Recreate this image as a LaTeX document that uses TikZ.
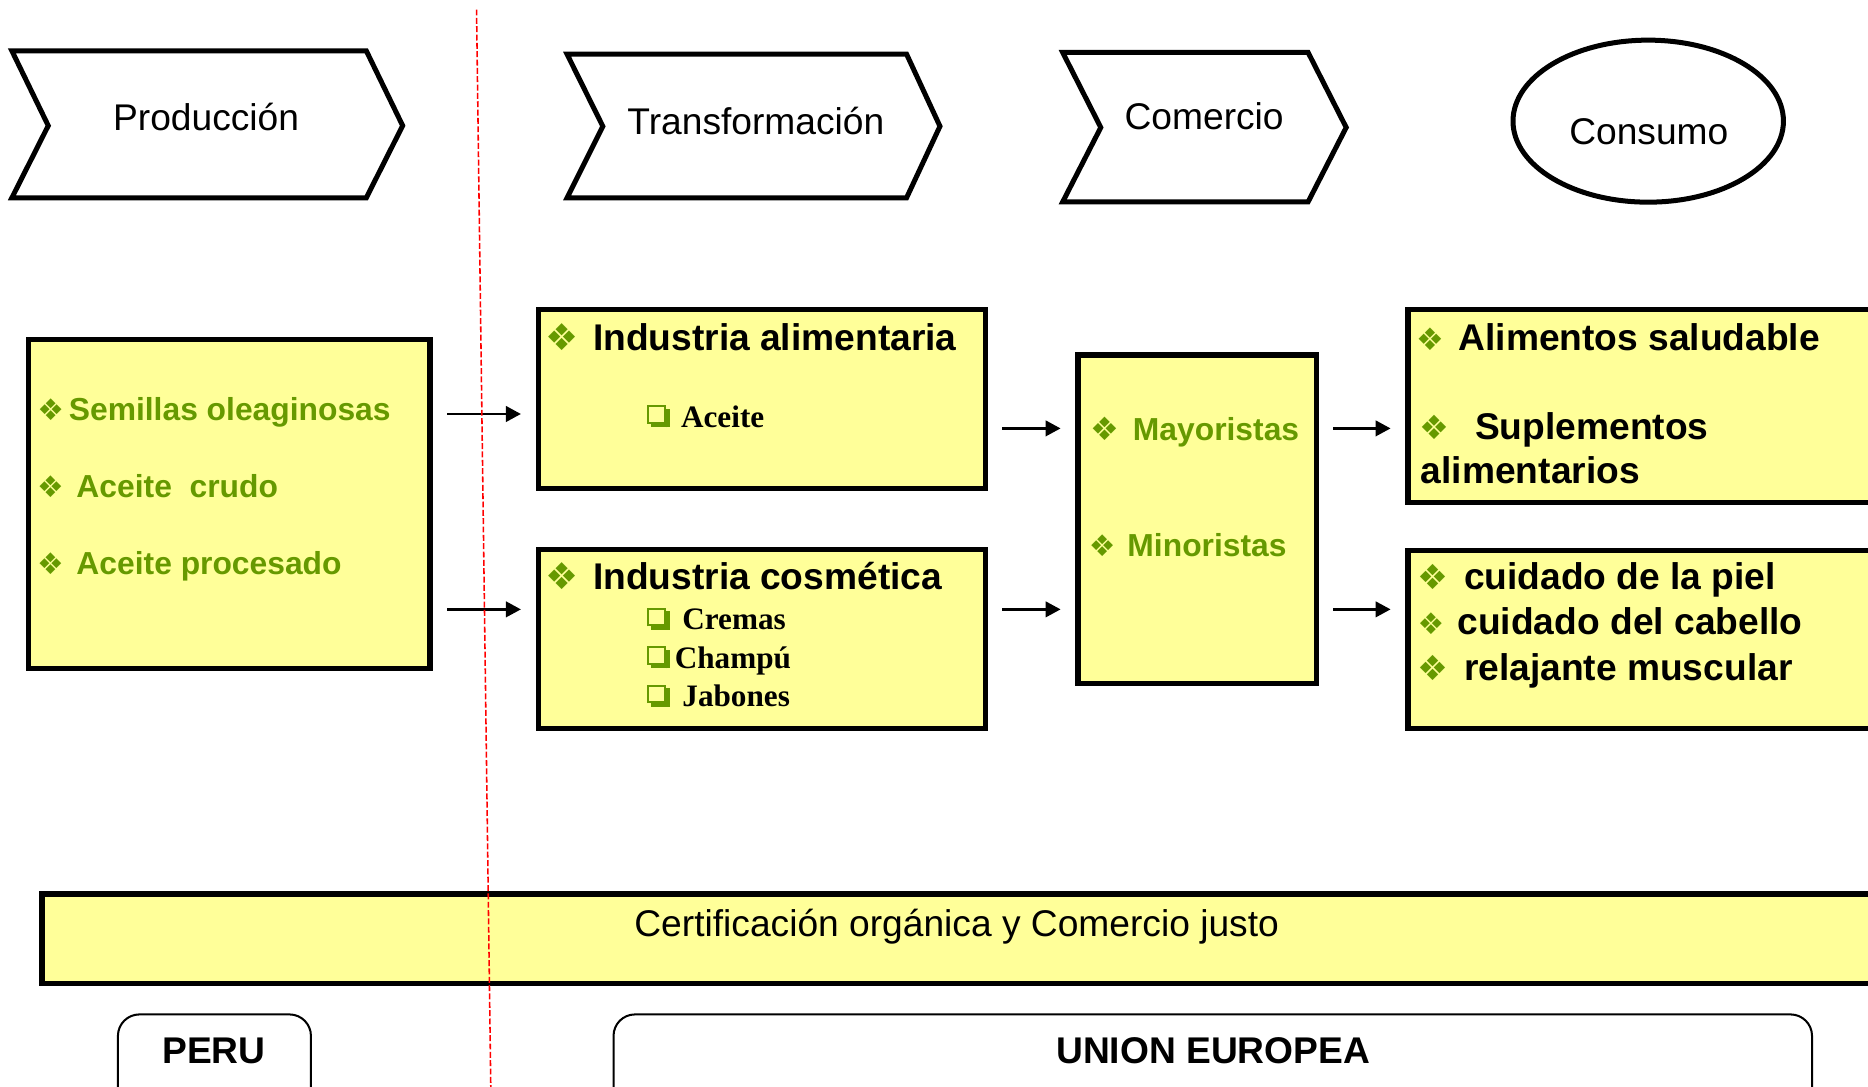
\documentclass[tikz,border=0pt]{standalone}
\usepackage{fontspec}
\setmainfont{Liberation Sans}
\newfontfamily\serifb{Liberation Serif}
\newfontfamily\symf{DejaVu Sans}
\usetikzlibrary{arrows.meta,shapes.geometric}
\definecolor{boxyellow}{HTML}{FFFF99}
\definecolor{bgreen}{HTML}{669900}
\newcommand\fs[1]{\fontsize{#1}{#1}\selectfont}
\newcommand\dia[2]{\makebox[0pt][r]{{\symf\fs{#1}\color{bgreen}\char"2756}\hspace{#2pt}}}
\newcommand\sqshape{{\color{bgreen}%
\rlap{\hspace{3pt}\rule{15.6pt}{3pt}}%
\rlap{\hspace{15.6pt}\raisebox{0pt}{\rule{3pt}{15.6pt}}}%
\rlap{\raisebox{3pt}{\rule{15.6pt}{1.7pt}}}%
\rlap{\raisebox{16.9pt}{\rule{15.6pt}{1.7pt}}}%
\rlap{\raisebox{3pt}{\rule{1.7pt}{15.6pt}}}%
\rlap{\hspace{13.9pt}\raisebox{3pt}{\rule{1.7pt}{15.6pt}}}%
\hspace{18.6pt}}}
\newcommand\sqb[1]{\makebox[0pt][r]{\sqshape\hspace{#1pt}}}
\begin{document}
\begin{tikzpicture}[x=1pt,y=-1pt,
  chev/.style={draw,line width=4.2pt,line join=miter},
  ybox/.style={draw,fill=boxyellow,line width=4.5pt,rectangle,inner sep=0pt},
  rbox/.style={draw,rectangle,rounded corners=18pt,line width=1.7pt,inner sep=0pt},
  arr/.style={line width=2.2pt,-{Triangle[length=12.6pt,width=13pt]},shorten <=12pt,shorten >=12.5pt},
  txt/.style={anchor=base west,inner sep=0pt,outer sep=0pt},
  ttl/.style={txt,font=\bfseries\fs{31.2}},
  grn/.style={txt,font=\bfseries\fs{26.7},text=bgreen},
  srf/.style={txt,font=\serifb\bfseries\fs{26.2}},
  lbl/.style={anchor=base,inner sep=0pt,font=\fs{31.2}},
  blbl/.style={anchor=base,inner sep=0pt,font=\bfseries\fs{31.2}},
  redline/.style={draw=red,line width=1.3pt,dash pattern=on 5pt off 2pt}
]
\useasboundingbox (0,0) rectangle (1568,911.6);
\clip (0,0) rectangle (1568,911.6);
\fill[white] (0,0) rectangle (1568,911.6);

% stage shapes
\draw[chev] (10,42.7) -- (307.5,42.7) -- (338,105.5) -- (307.5,166) -- (10,166) -- (40.5,105.5) -- cycle;
\draw[chev] (476,45.5) -- (761,45.5) -- (789,106) -- (761,166) -- (476,166) -- (506,106) -- cycle;
\draw[chev] (892,44) -- (1098,44) -- (1130,107) -- (1098,169.5) -- (892,169.5) -- (924,107) -- cycle;
\node[draw,ellipse,line width=4.2pt,minimum width=227pt,minimum height=136pt,inner sep=0pt] (consumo) at (1383.5,101.7) {};

\node[lbl] (tprod) at (173,109.7) {Producción};
\node[lbl] (ttrans) at (634.5,112.5) {Transformación};
\node[lbl] (tcom) at (1010.75,109) {Comercio};
\node[lbl] (tcons) at (1384,121) {Consumo};

% boxes
\node[ybox,minimum width=337pt,minimum height=276pt] (b1) at (192.5,423) {};
\node[ybox,minimum width=375pt,minimum height=150pt] (b2) at (639.5,335) {};
\node[ybox,minimum width=375pt,minimum height=150pt] (b3) at (639.5,536.5) {};
\node[ybox,minimum width=200pt,minimum height=275.5pt] (b4) at (1005,435.75) {};
\node[ybox,minimum width=518pt,minimum height=162pt] (b5) at (1441,341) {};
\node[ybox,minimum width=518pt,minimum height=149.5pt] (b6) at (1441,536.75) {};
\node[ybox,line width=4.8pt,minimum width=1664.5pt,minimum height=75pt] (cert) at (867.75,788) {};
\node[rbox,minimum width=162pt,minimum height=130pt] (peru) at (180,916.5) {};
\node[rbox,minimum width=1006pt,minimum height=130pt] (ue) at (1018,916.5) {};

% arrows
\draw[arr] (b1.east |- 0,347.5) -- (b2.west |- 0,347.5);
\draw[arr] (b1.east |- 0,511.5) -- (b3.west |- 0,511.5);
\draw[arr] (b2.east |- 0,359.6) -- (b4.west |- 0,359.6);
\draw[arr] (b3.east |- 0,511.5) -- (b4.west |- 0,511.5);
\draw[arr] (b4.east |- 0,359.6) -- (b5.west |- 0,359.6);
\draw[arr] (b4.east |- 0,511.5) -- (b6.west |- 0,511.5);

% box 1
\node[grn] (t11) at (57.8,352.6) {\dia{25}{4}Semillas oleaginosas};
\node[grn] (t12) at (64.2,417.5) {\dia{25}{10.6}Aceite\ \ crudo};
\node[grn] (t13) at (64.2,481.9) {\dia{25}{10.6}Aceite procesado};
% box 2
\node[ttl] (t21) at (497.8,293.8) {\dia{31}{12}Industria alimentaria};
\node[srf] (t22) at (571.7,358.7) {\sqb{9.7}Aceite};
% box 3
\node[ttl] (t31) at (497.8,494.7) {\dia{31}{12}Industria cosmética};
\node[srf] (t32) at (572.8,528.8) {\sqb{10.8}Cremas};
\node[srf] (t33) at (566.4,561) {\sqb{4.4}Champú};
\node[srf] (t34) at (572.8,593.2) {\sqb{10.8}Jabones};
% box 4
\node[grn] (t41) at (951,369.9) {\dia{27}{11.6}Mayoristas};
\node[grn] (t42) at (946.4,467.3) {\dia{25}{10}Minoristas};
% box 5
\node[ttl] (t51) at (1224.3,293.8) {\dia{26}{11.7}Alimentos saludable};
\node[ttl] (t52) at (1238.2,368.5) {\dia{28}{22}Suplementos};
\node[ttl] (t53) at (1192.7,405.7) {alimentarios};
% box 6
\node[ttl] (t61) at (1228.9,494.7) {\dia{29}{13}cuidado de la piel};
\node[ttl] (t62) at (1223.4,532.5) {\dia{25}{11}cuidado del cabello};
\node[ttl] (t63) at (1228.9,570.8) {\dia{29}{13}relajante muscular};

% bottom
\node[lbl] (tcert) at (803,785.7) {Certificación orgánica y Comercio justo};
\node[blbl] (tperu) at (179.5,893) {PERU};
\node[blbl] (tue) at (1018.3,893) {UNION EUROPEA};

% border line
\coordinate (r1) at (400,8);
\coordinate (r2) at (412,915);
\draw[redline] (r1) -- (r2);
\end{tikzpicture}
\end{document}
